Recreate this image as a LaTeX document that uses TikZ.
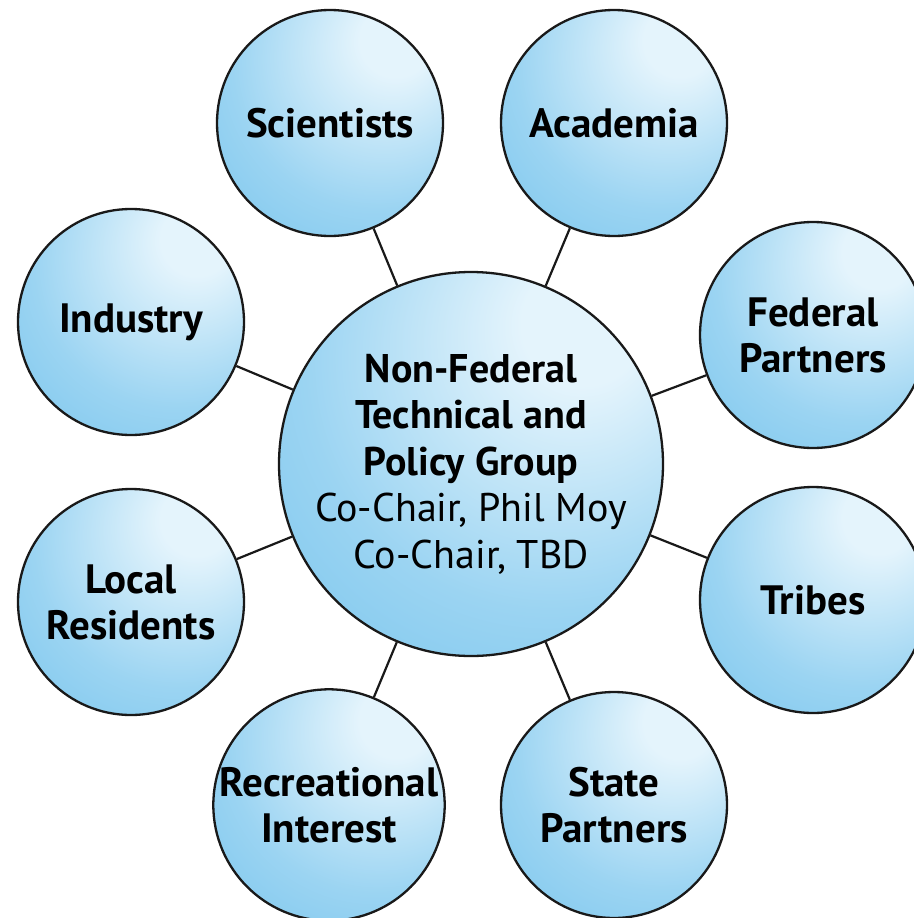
\documentclass[tikz,border=0pt]{standalone}
\usepackage{fontspec}
\setmainfont{PT Sans}
\definecolor{bhl}{RGB}{228,244,252}
\definecolor{bmid}{RGB}{155,212,242}
\definecolor{bedge}{RGB}{98,187,234}
\pgfdeclareradialshading{bubble}{\pgfpoint{16bp}{20bp}}{color(0bp)=(bhl); color(8bp)=(bhl); color(32bp)=(bmid); color(62bp)=(bedge); color(90bp)=(bedge)}
\tikzset{
  bub/.style={circle, draw=black!90, line width=2.3pt, shading=bubble, minimum size=226pt, inner sep=0pt, align=center, text=black, font=\fontsize{41}{46}\selectfont\bfseries},
  hub/.style={bub, minimum size=384pt, font=\fontsize{40}{46.5}\selectfont},
  link/.style={line width=2.2pt, black!90}
}
\begin{document}
\begin{tikzpicture}[x=1pt,y=-1pt]
\useasboundingbox[fill=white] (0,0) rectangle (913,918);
\node[hub] (c) at (471,464) {\textbf{Non-Federal}\\\textbf{Technical and}\\\textbf{Policy Group}\\Co-Chair, Phil Moy\\Co-Chair, TBD};
\node[bub] (sci) at (330,123) {Scientists};
\node[bub] (aca) at (614,123) {Academia};
\node[bub] (ind) at (131,322) {Industry};
\node[bub] (fed) at (813,335) {Federal\\Partners};
\node[bub] (loc) at (131,602) {Local\\Residents};
\node[bub] (tri) at (813,600) {Tribes};
\node[bub] (rec) at (329,805) {Recreational\\Interest};
\node[bub] (sta) at (614,805) {State\\Partners};
\foreach \n in {sci,aca,ind,fed,loc,tri,rec,sta}
  \draw[link] (c) -- (\n);
\end{tikzpicture}
\end{document}
